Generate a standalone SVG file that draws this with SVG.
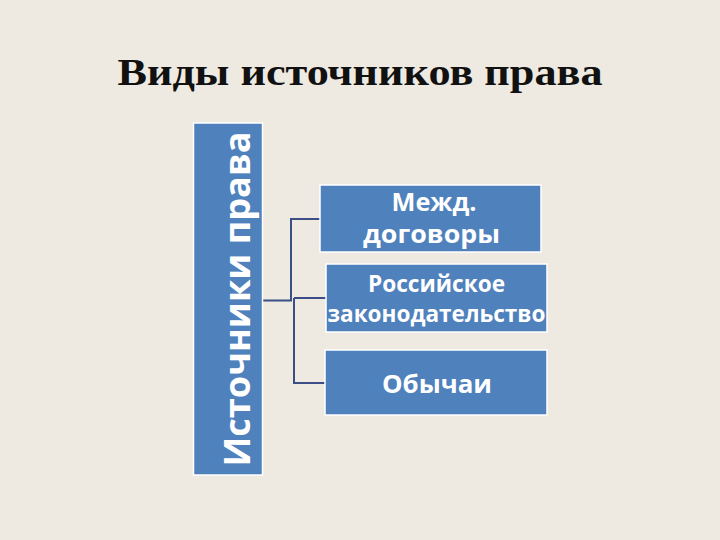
<svg xmlns="http://www.w3.org/2000/svg" width="720" height="540" viewBox="0 0 720 540">
<style>
.box{fill:#4F81BD;stroke:#ffffff;stroke-width:1.5}
.lbl{font-family:"Open Sans","DejaVu Sans",sans-serif;font-weight:bold;fill:#ffffff;text-anchor:middle}
.con{fill:none;stroke:#3B4F86;stroke-width:2}
</style>
<rect width="720" height="540" fill="#EEEAE1"/>
<text x="360" y="85" font-family="'Liberation Serif',serif" font-weight="bold" font-size="38" text-anchor="middle" fill="#111111" textLength="485" lengthAdjust="spacingAndGlyphs">Виды источников права</text>
<g id="connectors">
<path class="con" d="M262 300.5 H292"/>
<path class="con" d="M291 301 V219 H320"/>
<path class="con" d="M294 298 H326"/>
<path class="con" d="M294 298 V383 H325"/>
</g>
<g id="root">
<rect class="box" x="193.5" y="123" width="69" height="352"/>
<text class="lbl" transform="translate(250,299) rotate(-90)" font-size="36" textLength="335" lengthAdjust="spacingAndGlyphs">Источники права</text>
</g>
<g id="n1">
<rect class="box" x="320" y="185" width="221" height="67"/>
<text class="lbl" x="434" y="211" font-size="25" textLength="85" lengthAdjust="spacingAndGlyphs">Межд.</text>
<text class="lbl" x="431.5" y="243" font-size="25" textLength="137" lengthAdjust="spacingAndGlyphs">договоры</text>
</g>
<g id="n2">
<rect class="box" x="326" y="264" width="221" height="68"/>
<text class="lbl" x="436.5" y="292" font-size="23" textLength="137" lengthAdjust="spacingAndGlyphs">Российское</text>
<text class="lbl" x="436.5" y="322" font-size="23" textLength="218" lengthAdjust="spacingAndGlyphs">законодательство</text>
</g>
<g id="n3">
<rect class="box" x="325" y="350" width="222" height="65"/>
<text class="lbl" x="437" y="393" font-size="25" textLength="110" lengthAdjust="spacingAndGlyphs">Обычаи</text>
</g>
</svg>
